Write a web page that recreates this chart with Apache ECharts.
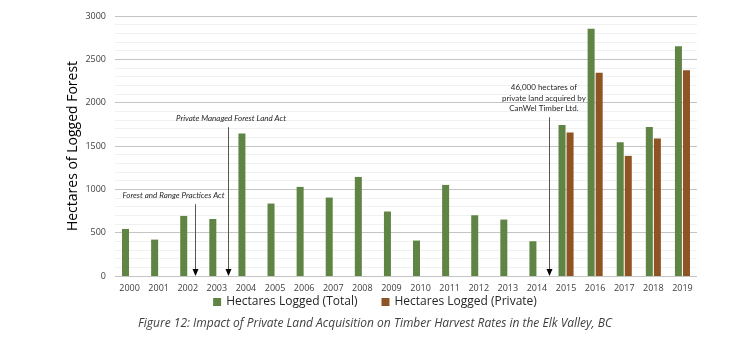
<!DOCTYPE html>
<html>
<head>
<meta charset="utf-8">
<script src="https://cdn.jsdelivr.net/npm/echarts@6/dist/echarts.min.js"></script>
<style>html,body{margin:0;padding:0;background:#fff;}#c{width:750px;height:352px;}</style>
</head>
<body>
<div id="c"></div>
<script>
const years = ['2000','2001','2002','2003','2004','2005','2006','2007','2008','2009','2010','2011','2012','2013','2014','2015','2016','2017','2018','2019'];
const totalLogged = [543,420,693,658,1645,836,1028,905,1143,744,409,1051,701,651,401,1741,2853,1544,1718,2650];
const privateLogged = [null,null,null,null,null,null,null,null,null,null,null,null,null,null,null,1656,2345,1386,1587,2373];
const annotationTexts = [
  ['Forest and Range Practices Act'],
  ['Private Managed Forest Land Act'],
  ['46,000 hectares of','private land acquired by','CanWel Timber Ltd.']
];
const annotationAfterYear = ['2002','2003','2014'];
const annotationTopValue = [828,1717,1832];
const caption = 'Figure 12: Impact of Private Land Acquisition on Timber Harvest Rates in the Elk Valley, BC';

const annLayout = [
  {frac:0.25, dx:-22, italic:true},
  {frac:0.4, dx:2.5, italic:true},
  {frac:0.4, dx:-5.6, italic:false}
];
const FONT = '"Open Sans", "Noto Sans", sans-serif';
const ANN_FONT = 'Lato, "Open Sans", sans-serif';
const chart = echarts.init(document.getElementById('c'));
const captionGraphic = {type:'text',left:'center',top:318,style:{text:caption,
    fontStyle:'italic',fontSize:12,fontFamily:FONT,fill:'#404040'}};
chart.setOption({
  animation:false,
  backgroundColor:'#fff',
  grid:{left:115,right:53,top:16,bottom:76},
  xAxis:{type:'category',data:years,
    axisLine:{show:false},axisTick:{show:false},
    axisLabel:{fontSize:9,color:'#404040',fontFamily:FONT,margin:8}},
  yAxis:{type:'value',min:0,max:3000,interval:500,
    name:'Hectares of Logged Forest',nameLocation:'middle',nameGap:35,nameMoveOverlap:false,
    nameTextStyle:{fontSize:14,color:'#000',fontFamily:FONT},
    axisLine:{show:false},axisTick:{show:false},
    axisLabel:{fontSize:9,color:'#404040',fontFamily:FONT,margin:9,formatter:v=>String(v)},
    splitLine:{lineStyle:{color:'#c4c4c4',width:1}},
    minorTick:{show:false,splitNumber:5},
    minorSplitLine:{show:true,lineStyle:{color:'#f0f0f0',width:1}}},
  legend:{top:291,left:'center',itemWidth:8,itemHeight:8,itemGap:24,icon:'rect',
    textStyle:{fontSize:12,color:'#262626',fontFamily:FONT}},
  series:[
    {name:'Hectares Logged (Total)',type:'bar',data:totalLogged,barWidth:7,barGap:'15%',itemStyle:{color:'#5f8443'}},
    {name:'Hectares Logged (Private)',type:'bar',data:privateLogged,barWidth:7,barGap:'15%',itemStyle:{color:'#8f5424'}}
  ],
  graphic:[captionGraphic]
});
const g = [];
annotationTexts.forEach((lines,idx)=>{
  const L = annLayout[idx];
  const i = years.indexOf(annotationAfterYear[idx]);
  const x0 = chart.convertToPixel({xAxisIndex:0}, years[i]);
  const x1 = chart.convertToPixel({xAxisIndex:0}, years[i+1]);
  const x = Math.round(x0 + (x1-x0)*L.frac)+0.5;
  const yb = chart.convertToPixel({yAxisIndex:0}, 0);
  const yt = chart.convertToPixel({yAxisIndex:0}, annotationTopValue[idx]);
  g.push({type:'line',shape:{x1:x,y1:yt,x2:x,y2:yb-6},style:{stroke:'#555',lineWidth:1},z:10});
  g.push({type:'polygon',shape:{points:[[x-3,yb-7],[x+3,yb-7],[x,yb]]},style:{fill:'#000'},z:10});
  const lh = 10.3;
  const n = lines.length;
  lines.forEach((t,k)=>{
    g.push({type:'text',x: x + L.dx, y: yt - 9 - (n-1-k)*lh,
      style:{text:t,fontStyle:L.italic?'italic':'normal',fontSize:8,fontFamily:ANN_FONT,fill:'#262626',
        align:'center', verticalAlign:'middle'},z:10});
  });
});
chart.setOption({graphic:[captionGraphic].concat(g)});
</script>
</body>
</html>
